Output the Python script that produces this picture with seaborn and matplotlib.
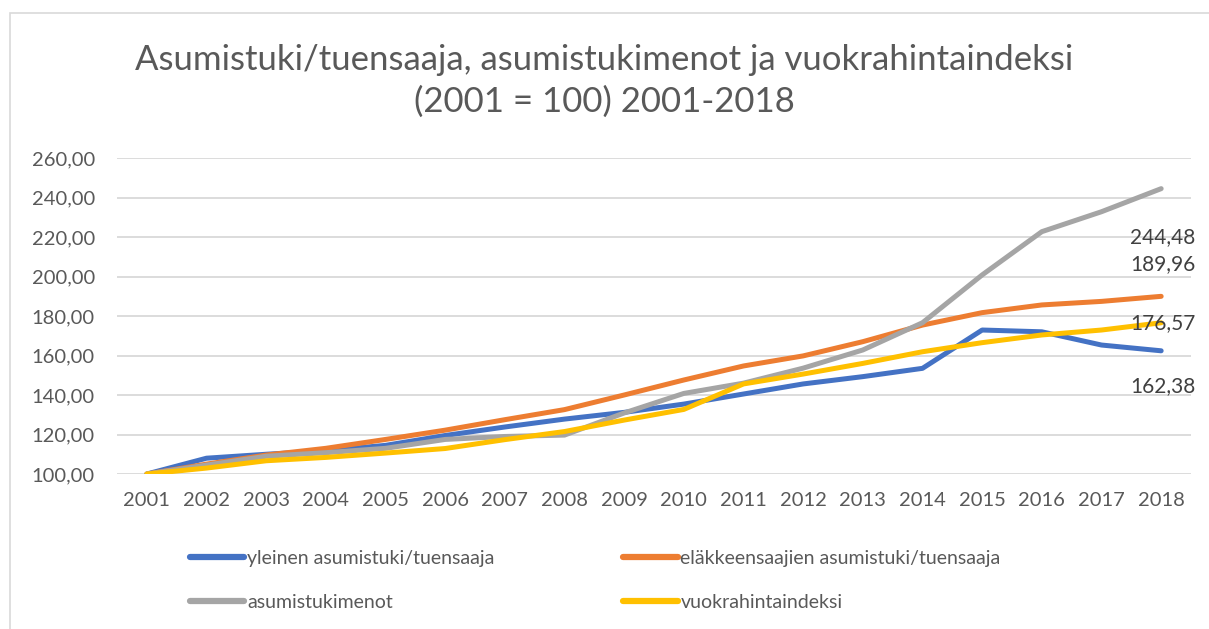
import pandas as pd
import matplotlib.pyplot as plt
import seaborn as sns
from matplotlib.patches import Rectangle

# Values (2001 = 100)
years = list(range(2001, 2019))
yleinen = [100, 108.0, 110.0, 111.8, 114.5, 119.5, 123.8, 127.8, 131.2, 135.4,
           140.5, 145.6, 149.3, 153.5, 172.9, 172.0, 165.3, 162.38]
elakkeensaajien = [100, 105.0, 109.6, 113.0, 117.5, 122.2, 127.5, 132.6, 140.0, 147.6,
                   154.7, 159.8, 167.0, 175.4, 181.7, 185.6, 187.4, 189.96]
menot = [100, 104.5, 109.0, 110.8, 113.0, 117.5, 119.0, 119.7, 130.9, 140.8,
         146.0, 153.6, 162.8, 176.6, 200.8, 222.7, 232.8, 244.48]
vuokra = [100, 103.0, 106.7, 108.4, 110.6, 112.9, 117.4, 121.5, 127.3, 132.7,
          145.6, 150.6, 156.0, 161.9, 166.5, 170.4, 172.9, 176.57]

series_names = ["yleinen asumistuki/tuensaaja", "eläkkeensaajien asumistuki/tuensaaja",
                "asumistukimenot", "vuokrahintaindeksi"]
colors = ["#4472C4", "#ED7D31", "#A5A5A5", "#FFC000"]

df = pd.DataFrame({"vuosi": years,
                   series_names[0]: yleinen,
                   series_names[1]: elakkeensaajien,
                   series_names[2]: menot,
                   series_names[3]: vuokra})
long_df = df.melt(id_vars="vuosi", var_name="sarja", value_name="arvo")

sns.set_style("white")
plt.rcParams["font.family"] = ["Lato", "DejaVu Sans"]
text_color = "#595959"

fig = plt.figure(figsize=(12.09, 6.29), dpi=100)
ax = fig.add_axes([117 / 1209, 1 - 474 / 629, (1191 - 117) / 1209, (474 - 158) / 629])

sns.lineplot(data=long_df, x="vuosi", y="arvo", hue="sarja", hue_order=series_names,
             palette=colors, linewidth=3.6, ax=ax, legend=False,
             solid_capstyle="round", solid_joinstyle="round")

ax.set_xlim(2000.5, 2018.5)
ax.set_ylim(100, 260)
ax.set_yticks(range(100, 261, 20))
ax.set_yticklabels([f"{v},00" for v in range(100, 261, 20)])
ax.set_xticks(years)
ax.set_xticklabels([str(y) for y in years])
ax.tick_params(axis="both", length=0, labelsize=14.5, colors=text_color)
ax.tick_params(axis="y", pad=16)
ax.tick_params(axis="x", pad=13)
ax.grid(axis="y", color="#D9D9D9", linewidth=1.3)
ax.set_axisbelow(True)
for s in ax.spines.values():
    s.set_visible(False)
ax.set_xlabel("")
ax.set_ylabel("")

# end-of-line data labels
offsets = {series_names[0]: -35, series_names[1]: 32,
           series_names[2]: -48, series_names[3]: 0}
for name in series_names:
    v = df[name].iloc[-1]
    ax.annotate(f"{v:.2f}".replace(".", ","), xy=(2018, v),
                xytext=(1, offsets[name] * 0.72), textcoords="offset points",
                ha="center", va="center", fontsize=15, color="#404040")

fig.text(0.5, 1 - 60 / 629, "Asumistuki/tuensaaja, asumistukimenot ja vuokrahintaindeksi",
         ha="center", va="center", fontsize=25, color=text_color)
fig.text(0.5, 1 - 102 / 629, "(2001 = 100) 2001-2018",
         ha="center", va="center", fontsize=25, color=text_color)

# legend, filled row by row like the original (matplotlib fills by column)
handles = [plt.Line2D([], [], color=c, linewidth=4.5) for c in colors]
order = [0, 2, 1, 3]
fig.legend([handles[i] for i in order], [series_names[i] for i in order], ncol=2,
           loc="center left", bbox_to_anchor=(190 / 1209, 1 - 580.5 / 629),
           frameon=False, fontsize=14, labelcolor=text_color,
           handlelength=2.8, handletextpad=0.15, columnspacing=6.6,
           labelspacing=1.4, borderpad=0, borderaxespad=0)

# chart frame
fig.patches.append(Rectangle((10 / 1209, -0.01), 1.0, 1 - 13 / 629 + 0.01,
                             transform=fig.transFigure, fill=False,
                             edgecolor="#D9D9D9", linewidth=1.2))

fig.savefig("out.png", dpi=100)
